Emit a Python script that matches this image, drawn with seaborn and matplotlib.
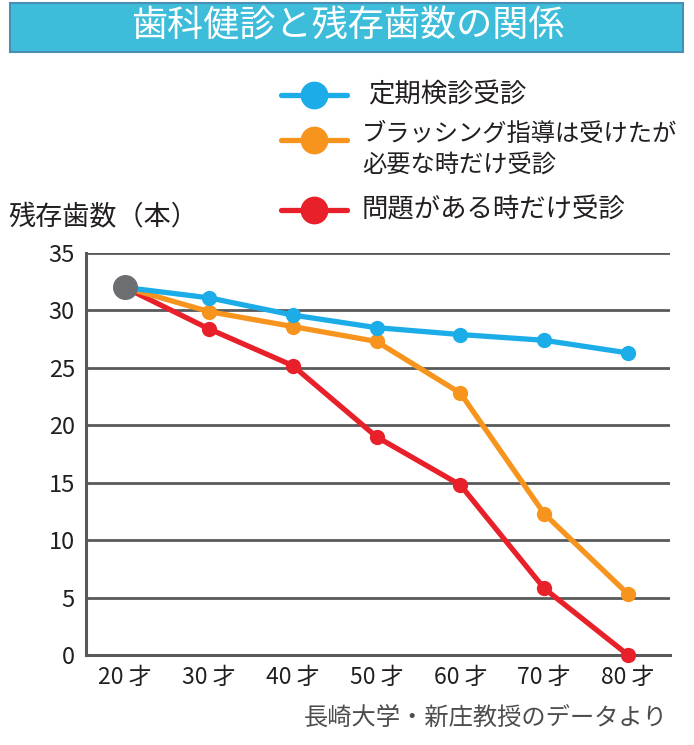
import pandas as pd
import seaborn as sns
import matplotlib.pyplot as plt
from matplotlib.lines import Line2D
from matplotlib.patches import Rectangle

# 年代と残存歯数（読み取り値）
ages = [20, 30, 40, 50, 60, 70, 80]
age_labels = ['20 才', '30 才', '40 才', '50 才', '60 才', '70 才', '80 才']
regular = [32, 31.1, 29.6, 28.5, 27.9, 27.4, 26.3]
brushing = [32, 29.9, 28.6, 27.3, 22.8, 12.3, 5.3]
problem = [32, 28.4, 25.2, 19.0, 14.8, 5.8, 0]
labels = ['定期検診受診', 'ブラッシング指導は受けたが\n必要な時だけ受診', '問題がある時だけ受診']
colors = ['#1CADE8', '#F7941D', '#E8202A']
yticks = [0, 5, 10, 15, 20, 25, 30, 35]

df = pd.DataFrame({
    'age': ages * 3,
    'teeth': regular + brushing + problem,
    'group': [labels[0]] * 7 + [labels[1]] * 7 + [labels[2]] * 7,
})

sns.set_style('white')
plt.rcParams['font.family'] = ['Noto Sans CJK JP', 'DejaVu Sans']

fig = plt.figure(figsize=(6.94, 7.45), dpi=100)
ax = fig.add_axes([0.1239, 0.1208, 0.8415, 0.5396])

for y in yticks[1:]:
    ax.axhline(y, color='#58595B', lw=2.0, zorder=1)

sns.lineplot(data=df, x='age', y='teeth', hue='group', hue_order=labels[::-1],
             palette=dict(zip(labels, colors)), marker='o', markersize=11,
             markeredgewidth=0, linewidth=3.8, legend=False, ax=ax, zorder=3)
for ln in ax.lines[-3:]:
    ln.set_clip_on(False)

# 20才の共通点
ax.plot(ages[0], regular[0], 'o', color='#6D6E71', markersize=17, zorder=5, clip_on=False)

ax.set_xlim(15.35, 85)
ax.set_ylim(0, 35)
ax.set_xticks(ages)
ax.set_xticklabels(age_labels, fontsize=16.5, color='#231F20')
ax.set_yticks(yticks)
ax.set_yticklabels([str(v) for v in yticks], fontsize=17, color='#231F20')
ax.tick_params(length=0, pad=8)
ax.set_xlabel('')
ax.set_ylabel('')
for s in ['top', 'right']:
    ax.spines[s].set_visible(False)
for s in ['left', 'bottom']:
    ax.spines[s].set_color('#58595B')
    ax.spines[s].set_linewidth(2.2)

# タイトル帯
fig.patches.append(Rectangle((10 / 694, 1 - 52 / 745), 673 / 694, 49 / 745,
                             transform=fig.transFigure, facecolor='#3DBDD9',
                             edgecolor='#4A8DB5', lw=1.5))
fig.text(348 / 694, 1 - 27 / 745, '歯科健診と残存歯数の関係', color='white',
         fontsize=26, ha='center', va='center')

fig.text(8 / 694, 1 - 218 / 745, '残存歯数（本）', fontsize=19.5, color='#231F20',
         ha='left', va='center')

# 凡例
leg_y = [95, 140, 210]
for c, lab, yy in zip(colors, labels, leg_y):
    yf = 1 - yy / 745
    fig.lines.append(Line2D([281 / 694, 347 / 694], [yf, yf], transform=fig.transFigure,
                            color=c, lw=3.8))
    fig.lines.append(Line2D([314 / 694], [yf], transform=fig.transFigure, color=c,
                            marker='o', markersize=20, markeredgewidth=0))
fig.text(368 / 694, 1 - 95 / 745, labels[0], fontsize=19, color='#231F20', va='center')
fig.text(362 / 694, 1 - 150 / 745, labels[1], fontsize=17.5, color='#231F20', va='center',
         linespacing=1.3)
fig.text(362 / 694, 1 - 210 / 745, labels[2], fontsize=19, color='#231F20', va='center')

fig.text(668 / 694, 1 - 718 / 745, '長崎大学・新庄教授のデータより', fontsize=17.5,
         color='#4D4D4F', ha='right', va='center')

fig.savefig('out.png', dpi=100)
